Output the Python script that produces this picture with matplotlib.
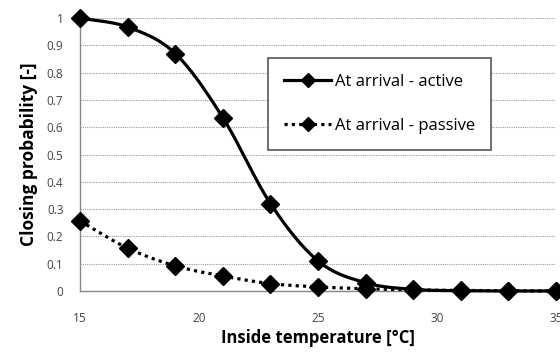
import numpy as np
import matplotlib
matplotlib.use("Agg")
import matplotlib.pyplot as plt
from matplotlib.lines import Line2D

temps = [15, 17, 19, 21, 23, 25, 27, 29, 31, 33, 35]
active = [1.0, 0.967, 0.87, 0.635, 0.32, 0.11, 0.03, 0.006, 0.001, 0.0, 0.0]
passive = [0.256, 0.157, 0.092, 0.055, 0.027, 0.015, 0.008, 0.004, 0.002, 0.001, 0.0]
xticks = [15, 20, 25, 30, 35]
yticks = [0, 0.1, 0.2, 0.3, 0.4, 0.5, 0.6, 0.7, 0.8, 0.9, 1]
ytick_labels = ["0", "0.1", "0.2", "0.3", "0.4", "0.5", "0.6", "0.7", "0.8", "0.9", "1"]
labels = ["At arrival - active", "At arrival - passive"]


def smooth(x, y, n=20):
    # Catmull-Rom rendering of the polyline (like Excel "smoothed line")
    x = np.asarray(x, float); y = np.asarray(y, float)
    px = np.concatenate([[2 * x[0] - x[1]], x, [2 * x[-1] - x[-2]]])
    py = np.concatenate([[2 * y[0] - y[1]], y, [2 * y[-1] - y[-2]]])
    xs, ys = [], []
    for i in range(1, len(px) - 2):
        t = np.linspace(0, 1, n, endpoint=False)
        for p, out in ((px, xs), (py, ys)):
            p0, p1, p2, p3 = p[i - 1], p[i], p[i + 1], p[i + 2]
            out.extend(0.5 * ((2 * p1) + (-p0 + p2) * t + (2 * p0 - 5 * p1 + 4 * p2 - p3) * t ** 2
                              + (-p0 + 3 * p1 - 3 * p2 + p3) * t ** 3))
    xs.append(x[-1]); ys.append(y[-1])
    return np.array(xs), np.array(ys)


plt.rcParams['font.family'] = ['Open Sans', 'DejaVu Sans']
fig = plt.figure(figsize=(5.6, 3.54), dpi=100)
ax = fig.add_axes([0.143, 0.178, 0.85, 0.771])

sx, sy = smooth(temps, active)
ax.plot(sx, sy, color='black', lw=2.3, clip_on=False, zorder=3)
ax.plot(temps, active, ls='none', marker='D', ms=9.5, color='black', clip_on=False, zorder=4)
sx, sy = smooth(temps, passive)
ax.plot(sx, sy, color='black', lw=2.3, ls=(0, (1, 1.3)), clip_on=False, zorder=3)
ax.plot(temps, passive, ls='none', marker='D', ms=9.5, color='black', clip_on=False, zorder=4)

ax.set_xlim(15, 35)
ax.set_ylim(0, 1)
ax.set_xticks(xticks)
ax.set_xticklabels([str(t) for t in xticks])
ax.set_yticks(yticks)
ax.set_yticklabels(ytick_labels)
ax.tick_params(axis='both', length=0, labelsize=8.5, labelcolor='#444444')
ax.tick_params(axis='x', pad=15)
ax.tick_params(axis='y', pad=12)
ax.grid(axis='y', color='#999999', ls=(0, (1, 1)), lw=0.8)
for s in ['top', 'right']:
    ax.spines[s].set_visible(False)
for s in ['left', 'bottom']:
    ax.spines[s].set_color('#888888')
    ax.spines[s].set_linewidth(1)

ax.set_xlabel('Inside temperature [°C]', fontsize=12, fontweight='bold', labelpad=3)
ax.set_ylabel('Closing probability [-]', fontsize=12.5, fontweight='bold', labelpad=6)

handles = [Line2D([], [], color='black', lw=2.3, marker='D', ms=7),
           Line2D([], [], color='black', lw=2.3, ls=(0, (1, 1.3)), marker='D', ms=7)]
leg = ax.legend(handles, labels, loc='upper left', bbox_to_anchor=(0.378, 0.885),
                fontsize=12, frameon=True, fancybox=False, framealpha=1,
                edgecolor='#555555', handlelength=2.8, labelspacing=1.7,
                borderpad=0.95, handletextpad=0.25)
leg.get_frame().set_linewidth(1.2)

fig.savefig('out.png', dpi=100)
